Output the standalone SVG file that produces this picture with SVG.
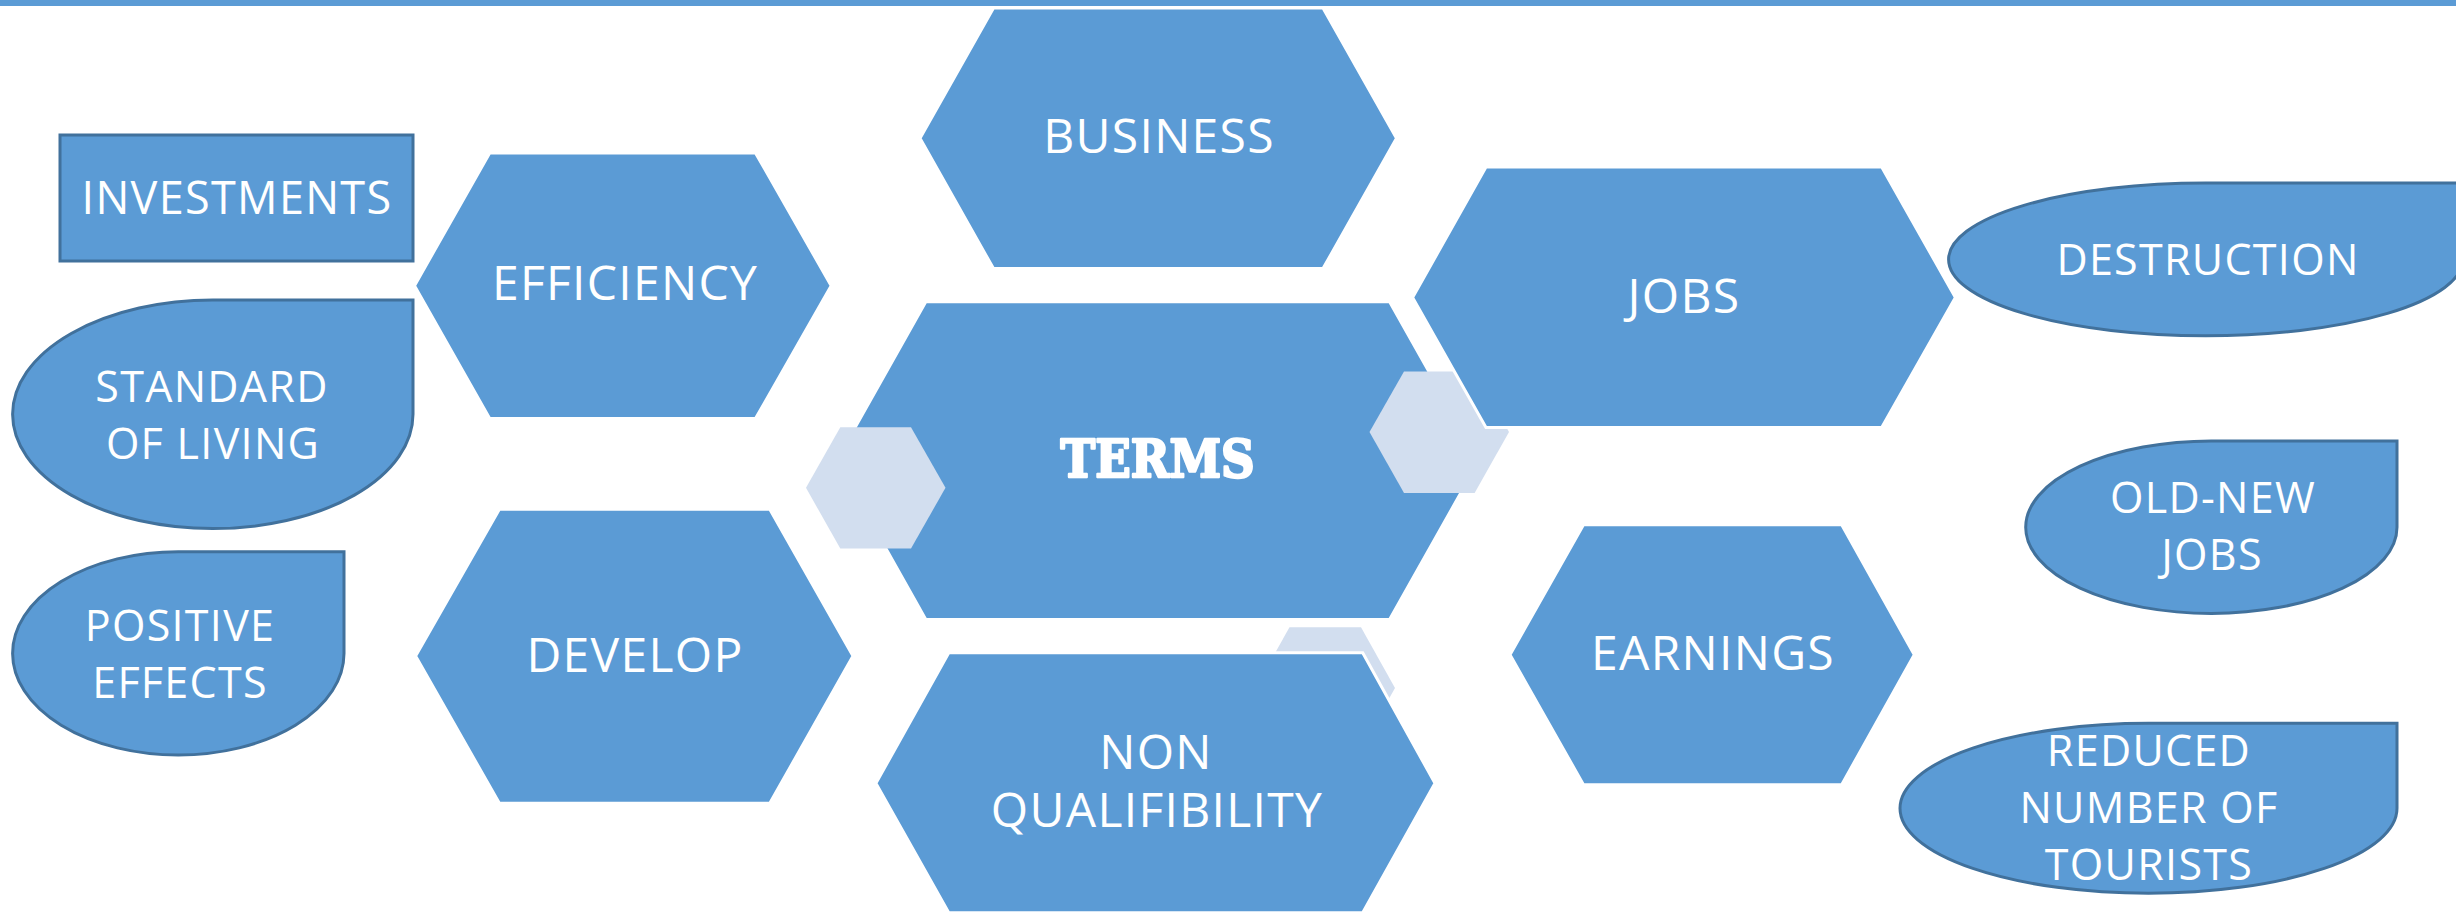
<svg xmlns="http://www.w3.org/2000/svg" width="2456" height="915" viewBox="0 0 2456 915">
<defs>
<style>
.hex{fill:#5B9BD5;stroke:#FFFFFF;stroke-width:3;stroke-linejoin:miter}
.lhex{fill:#D2DEEF;stroke:none}
.side{fill:#5B9BD5;stroke:#41719C;stroke-width:3;stroke-linejoin:miter}
.t{font-family:"Open Sans","Liberation Sans",sans-serif;fill:#FFFFFF;text-anchor:middle;letter-spacing:1.3px}
.h{font-size:48px}
.s{font-size:43px}
.terms{font-family:"DejaVu Serif","Liberation Serif",serif;font-weight:bold;font-size:52px;fill:#FFFFFF;stroke:#FFFFFF;stroke-width:2.5;stroke-linejoin:round;text-anchor:middle}
</style>
</defs>
<rect x="0" y="0" width="2456" height="6" fill="#5B9BD5"/>
<g id="connectors"></g>
<g id="investments">
<rect class="side" x="60" y="135" width="353" height="126"/>
<text class="t s" x="237" y="214" style="font-size:45px">INVESTMENTS</text>
</g>
<g id="standard-of-living">
<path class="side" d="M212.8,300 L413,300 L413,414.3 A200.2,114.3 0 0 1 212.8,528.6 A200.2,114.3 0 0 1 12.6,414.3 A200.2,114.3 0 0 1 212.8,300 Z"/>
<text class="t s" x="212" y="402">STANDARD</text>
<text class="t s" x="213" y="459">OF LIVING</text>
</g>
<g id="positive-effects">
<path class="side" d="M178.3,551.7 L344,551.7 L344,653.4 A165.7,101.7 0 0 1 178.3,755 A165.7,101.7 0 0 1 12.6,653.4 A165.7,101.7 0 0 1 178.3,551.7 Z"/>
<text class="t s" x="180" y="641">POSITIVE</text>
<text class="t s" x="180" y="698">EFFECTS</text>
</g>
<g id="efficiency">
<polygon class="hex" points="414.5,285.7 489.7,152.9 755.5,152.9 831.2,285.7 755.5,418.6 489.7,418.6"/>
<text class="t h" x="625" y="300">EFFICIENCY</text>
</g>
<g id="develop">
<polygon class="hex" points="415.6,656 499.4,509.3 769.8,509.3 853,656 769.8,803.3 499.4,803.3"/>
<text class="t h" x="635" y="672">DEVELOP</text>
</g>
<g id="business">
<polygon class="hex" points="920,138.3 993.5,7.9 1323,7.9 1396.5,138.3 1323,268.6 993.5,268.6"/>
<text class="t h" x="1159" y="153">BUSINESS</text>
</g>
<g id="terms">
<polygon class="hex" points="836.5,460.6 925.8,301.8 1389.6,301.8 1479,460.6 1389.6,619.5 925.8,619.5"/>
<polygon class="lhex" points="806,487.8 840.3,427.3 911,427.3 945.5,487.8 911,548.5 840.3,548.5"/>
<polygon class="lhex" points="1369.5,432 1404,371.4 1474.6,371.4 1509,432 1474.6,492.9 1404,492.9"/>
<text class="terms" x="1157.6" y="476.5" textLength="194" lengthAdjust="spacingAndGlyphs">TERMS</text>
</g>
<g id="jobs">
<polygon class="hex" points="1412.6,297.5 1486,167 1881.7,167 1955.4,297.5 1881.7,427.5 1486,427.5"/>
<text class="t h" x="1684" y="312.5">JOBS</text>
</g>
<g id="non-qualifibility">
<polygon class="lhex" points="1255.5,688 1289.5,627.3 1361,627.3 1395,688 1361,748.7 1289.5,748.7"/>
<polygon class="hex" points="875.9,783.3 948.8,652.7 1362.7,652.7 1435,783.3 1362.7,912.7 948.8,912.7"/>
<text class="t h" x="1156" y="768.7">NON</text>
<text class="t h" x="1157" y="827.3">QUALIFIBILITY</text>
</g>
<g id="earnings">
<polygon class="hex" points="1510,654.7 1583.5,524.7 1841.7,524.7 1914.3,654.7 1841.7,784.7 1583.5,784.7"/>
<text class="t h" x="1713" y="670">EARNINGS</text>
</g>
<g id="destruction">
<path class="side" d="M2205.7,183 L2462.8,183 L2462.8,259.4 A257.1,76.4 0 0 1 2205.7,335.8 A257.1,76.4 0 0 1 1948.6,259.4 A257.1,76.4 0 0 1 2205.7,183 Z"/>
<text class="t s" x="2208" y="275">DESTRUCTION</text>
</g>
<g id="old-new-jobs">
<path class="side" d="M2211.4,441 L2397,441 L2397,527.2 A185.6,86.2 0 0 1 2211.4,613.4 A185.6,86.2 0 0 1 2025.7,527.2 A185.6,86.2 0 0 1 2211.4,441 Z"/>
<text class="t s" x="2213" y="513.3">OLD-NEW</text>
<text class="t s" x="2212" y="570">JOBS</text>
</g>
<g id="reduced-number-of-tourists">
<path class="side" d="M2148.5,723.3 L2397,723.3 L2397,808.3 A248.5,85 0 0 1 2148.5,893.3 A248.5,85 0 0 1 1900,808.3 A248.5,85 0 0 1 2148.5,723.3 Z"/>
<text class="t s" x="2149" y="766">REDUCED</text>
<text class="t s" x="2149" y="823">NUMBER OF</text>
<text class="t s" x="2149" y="880">TOURISTS</text>
</g>
</svg>
